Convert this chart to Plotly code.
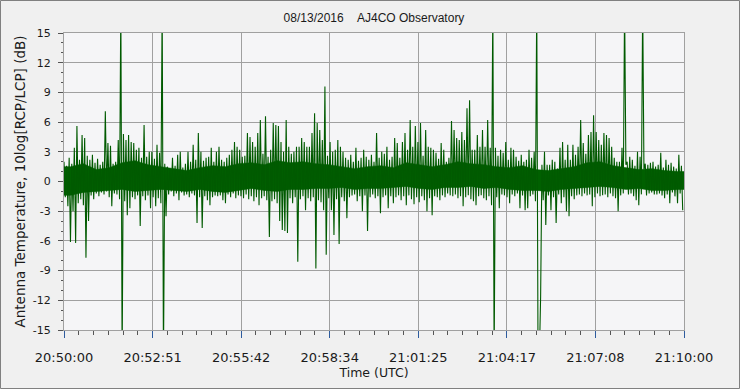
import plotly.graph_objects as go

# ---- data (5-second bins: the two excursions seen in each bin, dB) ----
bin_seconds = 5
peak_a = [
    2.0, 1.6, 2.4, 1.8, 3.4, 5.6, 2.2, 4.7, 4.4, 2.6,
    2.2, 2.7, 1.9, 2.3, 1.7, 2.0, 7.1, 3.9, 3.6, 1.8,
    2.0, 4.2, 18, 4.8, 4.2, 4.7, 4.0, 3.9, 3.2, 3.4,
    2.4, 5.7, 2.5, 3.0, 3.0, 2.3, 3.7, 2.9, 18, 1.8,
    1.5, 1.3, 2.4, 1.6, 2.7, 3.0, 1.4, 1.8, 3.0, 2.0,
    3.7, 2.2, 4.9, 3.0, 2.1, 2.4, 2.5, 3.4, 2.0, 3.0,
    3.5, 2.2, 2.0, 2.4, 2.7, 3.2, 4.0, 3.5, 3.2, 2.5,
    2.6, 4.9, 4.5, 4.0, 3.5, 4.9, 6.2, 2.8, 6.6, 2.5,
    3.2, 5.9, 5.7, 5.6, 4.0, 3.0, 6.2, 3.5, 2.8, 3.0,
    3.5, 3.5, 4.4, 4.0, 3.5, 3.5, 4.9, 6.9, 5.9, 5.2,
    4.2, 9.6, 2.6, 4.0, 3.0, 3.2, 4.2, 3.5, 3.0, 2.4,
    2.2, 2.7, 2.0, 3.4, 2.1, 2.4, 3.2, 2.5, 2.2, 2.7,
    2.0, 4.9, 2.4, 3.0, 2.8, 3.5, 2.2, 2.5, 4.4, 3.9,
    2.4, 4.0, 4.9, 3.2, 6.2, 3.5, 5.6, 4.0, 5.9, 2.6,
    5.2, 3.5, 3.4, 3.2, 2.9, 2.3, 3.9, 3.2, 2.0, 2.4,
    6.1, 5.2, 4.4, 4.2, 5.0, 4.2, 7.4, 8.2, 3.2, 3.2,
    4.7, 3.5, 5.2, 3.5, 6.2, 3.4, 18, 3.4, 2.6, 3.2,
    2.9, 4.0, 2.2, 3.4, 3.2, 2.5, 2.1, 2.7, 2.0, 2.2,
    3.2, 2.4, 3.0, 18, -18, 1.7, 3.0, 1.7, 1.7, 2.2,
    2.0, 1.3, 3.4, 4.0, 2.2, 3.7, 2.2, 3.7, 2.7, 3.5,
    6.2, 3.9, 2.8, 4.7, 5.0, 6.7, 5.0, 4.2, 3.7, 4.9,
    4.7, 4.4, 3.5, 2.4, 2.0, 2.0, 3.4, 18, 2.0, 2.5,
    2.2, 1.6, 3.0, 2.5, 18, 1.8, 1.7, 1.9, 2.0, 1.5,
    1.7, 2.9, 1.4, 2.2, 1.7, 1.9, 1.5, 1.3, 2.7, 1.6,
]
peak_b = [
    -1.6, -2.5, -6.1, -3.0, -6.2, -2.2, -1.8, -2.4, -7.7, -4.0,
    -1.4, -1.8, -1.2, -1.5, -1.1, -1.3, -1.0, -1.6, -2.5, -1.2,
    -1.3, -1.8, -18, -2.0, -3.4, -2.7, -1.6, -1.8, -1.4, -4.5,
    -1.5, -1.9, -1.4, -2.7, -1.6, -2.5, -1.7, -2.2, -18, -3.5,
    -1.3, -1.0, -1.5, -1.2, -1.9, -1.1, -1.4, -1.3, -1.6, -1.2,
    -1.4, -4.2, -1.6, -4.7, -1.5, -1.9, -2.4, -1.6, -1.4, -1.5,
    -1.4, -1.9, -2.2, -1.3, -1.6, -1.2, -1.7, -1.4, -1.5, -1.7,
    -1.3, -1.8, -1.5, -2.0, -1.6, -2.4, -1.7, -1.5, -1.9, -5.6,
    -2.0, -1.8, -2.2, -4.0, -4.9, -5.0, -5.2, -1.7, -2.2, -1.6,
    -8.1, -1.8, -1.5, -2.9, -1.7, -2.0, -1.6, -8.8, -1.9, -2.1,
    -2.9, -7.4, -1.7, -2.9, -5.4, -1.8, -6.3, -1.6, -2.0, -3.7,
    -1.6, -1.4, -1.3, -2.0, -1.5, -3.0, -1.4, -5.0, -1.6, -1.3,
    -1.7, -1.5, -3.2, -1.6, -1.4, -2.7, -1.5, -2.2, -1.6, -1.4,
    -1.9, -1.5, -2.4, -1.4, -1.8, -2.3, -1.6, -2.1, -1.5, -1.9,
    -3.0, -1.7, -3.4, -1.5, -1.6, -1.9, -1.4, -1.6, -1.2, -1.4,
    -1.5, -1.3, -1.7, -1.5, -2.5, -1.6, -1.4, -1.8, -2.0, -2.4,
    -1.5, -1.4, -1.7, -1.9, -1.5, -2.4, -18, -1.6, -2.7, -1.3,
    -1.4, -1.6, -2.2, -1.3, -1.5, -1.2, -2.7, -1.4, -2.9, -2.7,
    -1.5, -1.3, -2.0, -18, -11.6, -1.9, -4.4, -1.4, -2.9, -1.6,
    -4.2, -1.3, -2.2, -1.6, -3.0, -3.5, -1.5, -1.8, -1.4, -1.3,
    -1.5, -1.2, -1.4, -1.3, -2.5, -1.6, -1.2, -1.5, -1.4, -1.3,
    -1.6, -1.2, -1.5, -1.7, -3.0, -1.4, -1.2, 1.7, -1.3, -1.2,
    -1.5, -1.9, -2.4, -1.3, 1.2, -1.4, -1.2, -1.1, -1.3, -1.3,
    -1.2, -1.4, -1.7, -1.3, -2.2, -1.1, -1.5, -2.2, -1.2, -2.9,
]
# dense core of the noise band (25-second segments: top and bottom edge, dB)
core_seconds = 25
core_top = [1.5, 1.8, 1.2, 1.4, 1.9, 2.1, 1.7, 1.5, 1.3, 1.1, 1.4, 1.6,
            1.5, 1.8, 1.9, 1.7, 2.1, 1.9, 2.0, 1.8, 1.7, 1.5, 1.3, 1.5,
            1.6, 1.4, 1.9, 1.7, 1.5, 1.7, 2.0, 1.8, 1.7, 1.5, 1.4, 1.6,
            1.2, 1.1, 1.3, 1.5, 1.9, 2.0, 1.6, 1.4, 1.2, 1.3, 1.1, 1.0]
core_bottom = [-1.4, -1.1, -1.0, -0.9, -0.8, -1.0, -0.9, -0.8, -0.9, -1.0, -0.8, -1.0,
               -1.1, -0.9, -0.7, -0.9, -1.0, -0.8, -0.8, -0.7, -0.7, -0.6, -0.8, -0.7,
               -0.7, -0.6, -0.5, -0.7, -0.8, -0.6, -0.6, -0.5, -0.7, -0.6, -0.8, -0.9,
               -0.9, -1.0, -0.8, -0.7, -0.6, -0.5, -0.6, -0.8, -0.7, -0.9, -0.9, -0.8]
x_tick_labels = ["20:50:00", "20:52:51", "20:55:42", "20:58:34",
                 "21:01:25", "21:04:17", "21:07:08", "21:10:00"]
y_tick_values = [-15, -12, -9, -6, -3, 0, 3, 6, 9, 12, 15]
y_tick_labels = ["-15", "-12", "-9", "-6", "-3", "0", "3", "6", "9", "12", "15"]
span_seconds = 1200

# ---- build the traces from the data ----
xs, ys = [], []
for i, (a, b) in enumerate(zip(peak_a, peak_b)):
    t = i * bin_seconds
    xs += [t, t + bin_seconds / 2]
    ys += [a, b]

core_x = [0] + [(k + 0.5) * core_seconds for k in range(len(core_top))] + [span_seconds]
core_up = [core_top[0]] + core_top + [core_top[-1]]
core_dn = [core_bottom[0]] + core_bottom + [core_bottom[-1]]
band_x = core_x + core_x[::-1]
band_y = core_up + core_dn[::-1]

x_tick_vals = [k * span_seconds / (len(x_tick_labels) - 1) for k in range(len(x_tick_labels))]

green = "#005A00"
fig = go.Figure()
fig.add_trace(go.Scatter(x=band_x, y=band_y, mode="lines", fill="toself",
                         fillcolor="#006000", line=dict(color="#006000", width=0.5),
                         hoverinfo="skip", showlegend=False))
fig.add_trace(go.Scatter(x=xs, y=ys, mode="lines",
                         line=dict(color=green, width=1.1),
                         hoverinfo="skip", showlegend=False))

grid = "#A0A0A0"
fig.update_layout(
    width=740, height=389,
    margin=dict(l=64, r=56, t=33, b=59),
    paper_bgcolor="#F0F0F0",
    plot_bgcolor="#F5F5F7",
    title=dict(text="08/13/2016&nbsp;&nbsp;&nbsp;&nbsp;AJ4CO Observatory",
               x=374 / 740, xanchor="center", y=1 - 18 / 389, yanchor="middle",
               font=dict(family="Liberation Sans, Arial", size=12, color="#1A1A1A")),
    font=dict(family="DejaVu Sans", color="#1A1A1A"),
)
fig.update_xaxes(
    range=[0, span_seconds], tickmode="array", tickvals=x_tick_vals, ticktext=x_tick_labels,
    showgrid=True, gridcolor=grid, gridwidth=1, zeroline=False,
    showline=True, linecolor=grid, linewidth=1, mirror=True,
    ticks="outside", ticklen=7, tickcolor="#2E5C9E", tickwidth=1,
    ticklabelstandoff=8,
    tickfont=dict(family="DejaVu Sans", size=13, color="#1A1A1A"),
    minor=dict(tickmode="linear", tick0=0, dtick=span_seconds / 42, ticks="outside",
               ticklen=4, tickcolor="#555555", showgrid=False),
    title=dict(text="Time (UTC)", font=dict(family="DejaVu Sans", size=12.5, color="#1A1A1A"),
               standoff=2),
)
fig.update_yaxes(
    range=[-15, 15], tickmode="array", tickvals=y_tick_values, ticktext=y_tick_labels,
    showgrid=True, gridcolor=grid, gridwidth=1, zeroline=False,
    showline=True, linecolor=grid, linewidth=1, mirror=True,
    ticks="outside", ticklen=5, tickcolor="#555555", tickwidth=1,
    ticklabelstandoff=5,
    tickfont=dict(family="DejaVu Sans", size=11, color="#1A1A1A"),
    minor=dict(tickmode="linear", tick0=0, dtick=1, ticks="outside",
               ticklen=2, tickcolor="#555555", showgrid=False),
    title=dict(text="Antenna Temperature, 10log[RCP/LCP] (dB)",
               font=dict(family="DejaVu Sans", size=13.5, color="#1A1A1A"), standoff=4),
)
# outer frame of the picture
fig.add_shape(type="rect", xref="paper", yref="paper",
              x0=(0.5 - 64) / 620, x1=(739.5 - 64) / 620,
              y0=(330 - 388.5) / 297, y1=(330 - 0.5) / 297,
              line=dict(color="#808080", width=1), fillcolor="rgba(0,0,0,0)", layer="below")

fig.write_html("out.html")
